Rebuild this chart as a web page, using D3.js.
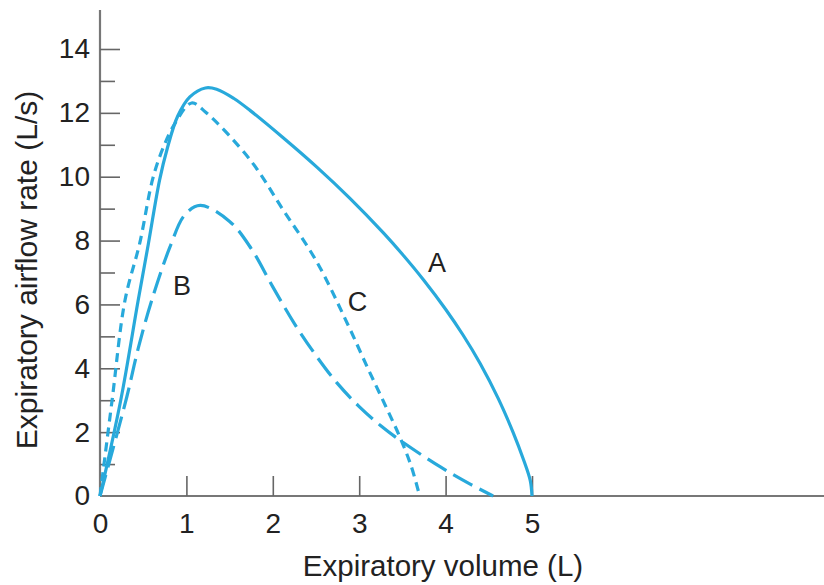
<!DOCTYPE html>
<html>
<head>
<meta charset="utf-8">
<script src="https://cdn.jsdelivr.net/npm/d3@7"></script>
<style>
  body { margin: 0; background: #fff; }
  text { font-family: "Liberation Sans", Arial, sans-serif; fill: #222; }
</style>
</head>
<body>
<div id="chart"></div>
<script>
// curve A (solid)
const volA  = [0, 0.24, 0.44, 0.56, 0.69, 0.78, 0.90, 1.04, 1.22, 1.35, 1.55, 1.74, 2.12, 2.51, 2.89, 3.28, 3.50, 3.75, 4.0, 4.2, 4.4, 4.61, 4.78, 4.90, 4.98, 5.0];
const flowA = [0, 3.0, 6.1, 7.9, 9.9, 10.9, 11.9, 12.5, 12.78, 12.74, 12.45, 12.07, 11.22, 10.3, 9.33, 8.24, 7.57, 6.75, 5.85, 5.05, 4.15, 3.05, 2.0, 1.15, 0.48, 0];
// curve B (long dash)
const volB  = [0, 0.31, 0.44, 0.60, 0.81, 0.98, 1.16, 1.50, 1.75, 2.0, 2.25, 2.50, 2.74, 3.0, 3.25, 3.47, 3.94, 4.30, 4.55];
const flowB = [0, 3.1, 4.6, 6.14, 7.8, 8.8, 9.1, 8.6, 7.75, 6.55, 5.4, 4.4, 3.55, 2.8, 2.2, 1.75, 0.91, 0.35, 0];
// curve C (short dash)
const volC  = [0, 0.14, 0.29, 0.46, 0.61, 0.73, 0.87, 1.06, 1.22, 1.74, 2.12, 2.51, 2.86, 3.10, 3.30, 3.47, 3.60, 3.70];
const flowC = [0, 3.0, 6.14, 7.92, 9.93, 10.9, 11.68, 12.31, 12.03, 10.52, 8.96, 7.33, 5.42, 4.0, 2.85, 1.85, 0.95, 0];

const xTicks = [0, 1, 2, 3, 4, 5];
const yMinor = [1, 3, 5, 7, 9, 11, 13];
const yLabels = [0, 2, 4, 6, 8, 10, 12, 14];

const curveLabels = [
  {name: 'A', vol: 3.9, flow: 7.3},
  {name: 'B', vol: 0.95, flow: 6.6},
  {name: 'C', vol: 2.98, flow: 6.1}
];

const width = 824;
const height = 585;
const blue = '#28a9db';

const x = d3.scaleLinear().domain([0, 5]).range([100, 532]);
const y = d3.scaleLinear().domain([0, 14]).range([496, 49]);

const svg = d3.select('#chart')
  .append('svg')
  .attr('width', width)
  .attr('height', height);

// axis lines
svg.append('line')
  .attr('x1', x(0)).attr('x2', width)
  .attr('y1', y(0)).attr('y2', y(0))
  .attr('stroke', '#777').attr('stroke-width', 2.2);

svg.append('line')
  .attr('x1', x(0)).attr('x2', x(0))
  .attr('y1', 10).attr('y2', y(0))
  .attr('stroke', '#777').attr('stroke-width', 2.2);

// x axis ticks + labels
const xAxis = svg.append('g')
  .attr('transform', `translate(0, ${y(0)})`)
  .call(d3.axisBottom(x).tickValues(xTicks).tickFormat(d3.format('d'))
    .tickSizeInner(-20).tickSizeOuter(0).tickPadding(17));
xAxis.select('.domain').remove();
xAxis.selectAll('.tick line').attr('stroke', '#666').attr('stroke-width', 1.6)
  .filter(d => d === 0).remove();
xAxis.selectAll('text').style('font-size', '28px').attr('fill', '#222');

// y axis major ticks
const yAxis = svg.append('g')
  .attr('transform', `translate(${x(0)}, 0)`)
  .call(d3.axisLeft(y).tickValues(yLabels).tickFormat(d3.format('d'))
    .tickSizeInner(-20).tickSizeOuter(0).tickPadding(10));
yAxis.select('.domain').remove();
yAxis.selectAll('.tick line').attr('stroke', '#666').attr('stroke-width', 1.6)
  .filter(d => d === 0).remove();
yAxis.selectAll('text').style('font-size', '28px').attr('fill', '#222');

// y axis minor ticks
const yMinorAxis = svg.append('g')
  .attr('transform', `translate(${x(0)}, 0)`)
  .call(d3.axisLeft(y).tickValues(yMinor).tickFormat('')
    .tickSizeInner(-15).tickSizeOuter(0));
yMinorAxis.select('.domain').remove();
yMinorAxis.selectAll('.tick line').attr('stroke', '#666').attr('stroke-width', 1.6);

// axis titles
svg.append('text')
  .attr('x', 443).attr('y', 576)
  .attr('text-anchor', 'middle')
  .style('font-size', '29.5px')
  .text('Expiratory volume (L)');

svg.append('text')
  .attr('transform', 'translate(37, 270) rotate(-90)')
  .attr('text-anchor', 'middle')
  .style('font-size', '30px')
  .text('Expiratory airflow rate (L/s)');

// curves
const line = d3.line()
  .x(d => x(d[0]))
  .y(d => y(d[1]))
  .curve(d3.curveCatmullRom.alpha(0.5));

const series = [
  {vol: volA, flow: flowA, dash: null},
  {vol: volB, flow: flowB, dash: '22,8'},
  {vol: volC, flow: flowC, dash: '9,6'}
];

svg.selectAll('path.curve')
  .data(series)
  .enter()
  .append('path')
  .attr('class', 'curve')
  .attr('d', s => line(d3.zip(s.vol, s.flow)))
  .attr('fill', 'none')
  .attr('stroke', blue)
  .attr('stroke-width', 3.2)
  .attr('stroke-dasharray', s => s.dash);

// curve letters
svg.selectAll('text.lbl')
  .data(curveLabels)
  .enter()
  .append('text')
  .attr('class', 'lbl')
  .attr('x', d => x(d.vol))
  .attr('y', d => y(d.flow))
  .attr('text-anchor', 'middle')
  .attr('dy', '0.35em')
  .style('font-size', '27px')
  .text(d => d.name);
</script>
</body>
</html>
